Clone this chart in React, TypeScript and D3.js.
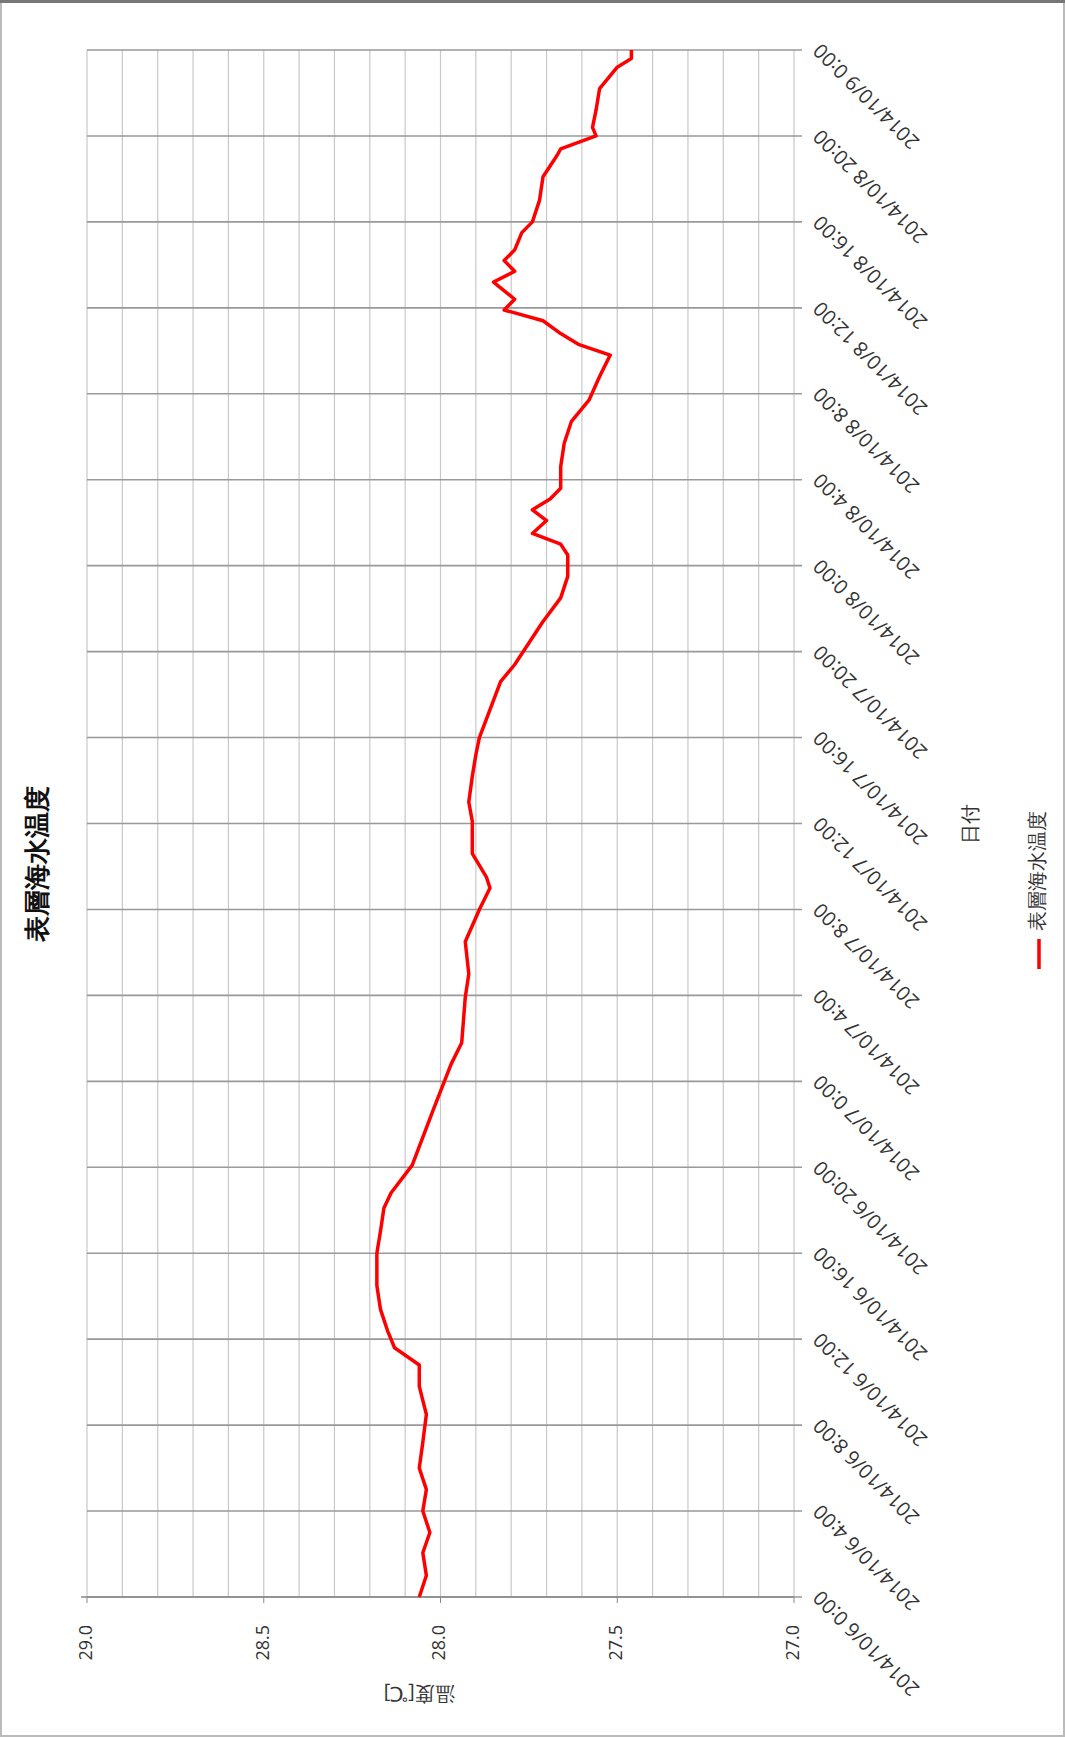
import React from "react";
import * as d3 from "d3";

const hours = [0,1,2.06,3,4,5,6,7.2,8.5,9.8,10.8,11.6,12.4,13.4,14.5,16,17,18.1,18.8,20.1,22.7,24.8,25.8,27.9,29,30.5,32,33,33.5,34.6,36.1,37,38.2,39.2,40,41.3,42.6,43.4,44.4,45.4,46.5,47.5,48.5,49,49.5,50.1,50.6,51.1,51.6,52.6,53.7,54.7,55.7,56.8,57.8,58.3,58.8,59.4,59.9,60.4,61.2,61.7,62.2,62.7,63.5,64,65,66.1,67.1,67.4,68,68.4,69.2,70.2,71.2,71.6,72];
const temps = [28.06,28.04,28.05,28.03,28.05,28.04,28.06,28.05,28.04,28.06,28.06,28.13,28.15,28.17,28.18,28.18,28.17,28.16,28.14,28.08,28.02,27.97,27.94,27.93,27.92,27.93,27.89,27.86,27.87,27.91,27.91,27.92,27.91,27.90,27.89,27.86,27.83,27.79,27.75,27.71,27.66,27.64,27.64,27.66,27.74,27.70,27.74,27.69,27.66,27.66,27.65,27.63,27.58,27.55,27.52,27.61,27.66,27.71,27.82,27.79,27.85,27.79,27.82,27.79,27.77,27.74,27.72,27.71,27.67,27.66,27.56,27.57,27.56,27.55,27.50,27.46,27.46];
const dateTicks = ["2014/10/6 0:00","2014/10/6 4:00","2014/10/6 8:00","2014/10/6 12:00","2014/10/6 16:00","2014/10/6 20:00","2014/10/7 0:00","2014/10/7 4:00","2014/10/7 8:00","2014/10/7 12:00","2014/10/7 16:00","2014/10/7 20:00","2014/10/8 0:00","2014/10/8 4:00","2014/10/8 8:00","2014/10/8 12:00","2014/10/8 16:00","2014/10/8 20:00","2014/10/9 0:00"];
const tempTicks = [29.0, 28.5, 28.0, 27.5, 27.0];

const W = 1547, H = 707;
const TX = 87, TY = 1597;

export default function App() {
  const x = d3.scaleLinear().domain([0, 72]).range([0, W]);
  const y = d3.scaleLinear().domain([27, 29]).range([H, 0]);
  const line = d3.line<number>().x((_, i) => x(hours[i])).y((d) => y(d));
  const minor = d3.range(0, 21).map((i) => 27 + i * 0.1);
  const font = "'Open Sans', 'Liberation Sans', Arial, sans-serif";
  return (
    <svg width={1065} height={1737} style={{ position: "absolute", left: 0, top: 0, background: "#fff" }} fontFamily={font}>
      <rect x={1} y={1} width={1063} height={1735} fill="#fff" stroke="#bbb" strokeWidth={2} />
      <rect x={0} y={0} width={1065} height={3} fill="#777" />
      <g transform={`translate(${TX},${TY}) rotate(-90)`}>
        {minor.map((v, i) => (
          <line key={"m" + i} x1={0} x2={W} y1={y(v)} y2={y(v)} stroke="#c8c8c8" strokeWidth={1.2} />
        ))}
        {dateTicks.map((d, i) => (
          <line key={"g" + i} x1={x(i * 4)} x2={x(i * 4)} y1={0} y2={H + 8} stroke="#999" strokeWidth={1.6} />
        ))}
        <line x1={0} x2={0} y1={-6} y2={H} stroke="#888" strokeWidth={1.5} />
        {tempTicks.map((v, i) => (
          <g key={"t" + i}>
            <line x1={-6} x2={0} y1={y(v)} y2={y(v)} stroke="#888" />
            <text x={-28} y={y(v)} textAnchor="end" dominantBaseline="middle" fontSize={18} fill="#333">{v.toFixed(1)}</text>
          </g>
        ))}
        {dateTicks.map((d, i) => (
          <text key={"d" + i} transform={`translate(${x(i * 4) + 4},${H + 24}) rotate(-45)`} textAnchor="end" dominantBaseline="middle" fontSize={20} fill="#333">{d}</text>
        ))}
        <path d={line(temps) || ""} fill="none" stroke="#ff0000" strokeWidth={3.5} strokeLinejoin="round" />
        <text transform={`translate(-95,${y(28.06)}) rotate(-90)`} textAnchor="middle" dominantBaseline="middle" fontSize={20} fill="#333">温度[℃]</text>
        <text x={W / 2} y={H + 178} textAnchor="middle" dominantBaseline="middle" fontSize={20} fill="#333">日付</text>
        <line x1={628} x2={658} y1={H + 245} y2={H + 245} stroke="#ff0000" strokeWidth={3.5} />
        <text x={666} y={H + 245} dominantBaseline="middle" fontSize={20} fill="#333">表層海水温度</text>
        <text x={W / 2 - 40} y={-48} textAnchor="middle" dominantBaseline="middle" fontSize={26} fontWeight="bold" fill="#111">表層海水温度</text>
      </g>
    </svg>
  );
}
